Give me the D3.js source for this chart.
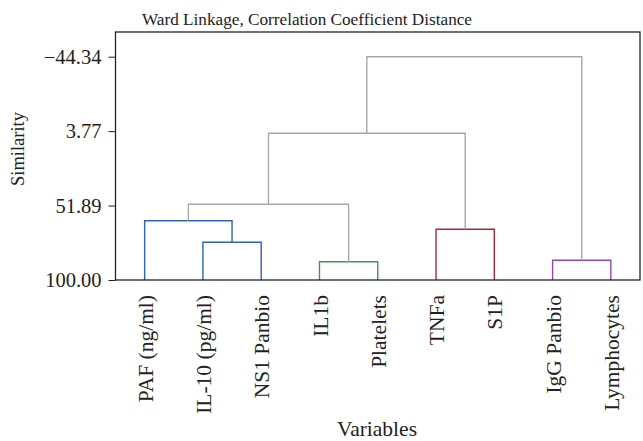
<!DOCTYPE html>
<html>
<head>
<meta charset="utf-8">
<script src="https://d3js.org/d3.v7.min.js"></script>
<style>
  body { margin: 0; background: #fff; }
  text { font-family: "Liberation Serif", "DejaVu Serif", serif; fill: #222; }
  .axis path, .axis line { stroke: #222; }
</style>
</head>
<body>
<svg id="chart" width="643" height="441"></svg>
<script>
// leaves in dendrogram order
const leaves = ["PAF (ng/ml)", "IL-10 (pg/ml)", "NS1 Panbio", "IL1b", "Platelets",
                "TNFa", "S1P", "IgG Panbio", "Lymphocytes"];

// merges: node ids 0-8 are leaves, merge i creates node 9+i
const mergeA   = [1, 3, 7, 0, 5, 12, 14, 15];
const mergeB   = [2, 4, 8, 9, 6, 10, 13, 11];
const mergeSim = [75.63, 88.17, 87.27, 61.67, 67.23, 51.07, 5.11, -44.34];
const mergeGroup = [1, 2, 4, 1, 3, 0, 0, 0];

const yTicks = [-44.34, 3.77, 51.89, 100];

const groupColors = ["#a8a8a8", "#2c63b5", "#3a9a55", "#a52a35", "#9444b8"];

const svg = d3.select("#chart");
const mLeft = 115.5, mRight = 640, mTop = 32, mBottom = 280;

const x = d3.scalePoint().domain(leaves).range([mLeft, mRight]).padding(0.5);
const y = d3.scaleLinear().domain([100, -60.3]).range([mBottom, mTop]);

// node positions
const nodeX = leaves.map(d => x(d));
const nodeY = leaves.map(() => 100);
mergeA.forEach((a, i) => {
  nodeX.push((nodeX[a] + nodeX[mergeB[i]]) / 2);
  nodeY.push(mergeSim[i]);
});

// links
const g = svg.append("g");
mergeA.forEach((a, i) => {
  const b = mergeB[i], s = mergeSim[i];
  const p = d3.path();
  p.moveTo(nodeX[a], y(nodeY[a]));
  p.lineTo(nodeX[a], y(s));
  p.lineTo(nodeX[b], y(s));
  p.lineTo(nodeX[b], y(nodeY[b]));
  g.append("path")
    .attr("d", p.toString())
    .attr("fill", "none")
    .attr("stroke", groupColors[mergeGroup[i]])
    .attr("stroke-width", 1.4);
});

// frame
svg.append("rect")
  .attr("x", mLeft).attr("y", mTop)
  .attr("width", mRight - mLeft).attr("height", mBottom - mTop)
  .attr("fill", "none").attr("stroke", "#222").attr("stroke-width", 1.3);

// y axis
const yAxis = svg.append("g")
  .attr("class", "axis")
  .attr("transform", `translate(${mLeft},0)`)
  .call(d3.axisLeft(y).tickValues(yTicks).tickFormat(d3.format(".2f")).tickSize(7).tickSizeOuter(0));
yAxis.select(".domain").remove();
yAxis.selectAll("text").attr("font-size", 20.5).attr("dx", -4);

// x axis labels
const xAxis = svg.append("g")
  .attr("class", "axis")
  .attr("transform", `translate(0,${mBottom})`)
  .call(d3.axisBottom(x).tickSize(0));
xAxis.select(".domain").remove();
xAxis.selectAll("text")
  .attr("font-size", 21.5)
  .attr("transform", "rotate(-90)")
  .attr("x", -15).attr("y", 0)
  .attr("dy", "0.35em")
  .attr("text-anchor", "end");

// title and axis titles
svg.append("text")
  .attr("x", 307).attr("y", 25)
  .attr("text-anchor", "middle")
  .attr("font-size", 17.2)
  .text("Ward Linkage, Correlation Coefficient Distance");

svg.append("text")
  .attr("transform", "translate(24,149) rotate(-90)")
  .attr("text-anchor", "middle")
  .attr("font-size", 18.5)
  .text("Similarity");

svg.append("text")
  .attr("x", 377).attr("y", 436)
  .attr("text-anchor", "middle")
  .attr("font-size", 21.5)
  .text("Variables");
</script>
</body>
</html>
